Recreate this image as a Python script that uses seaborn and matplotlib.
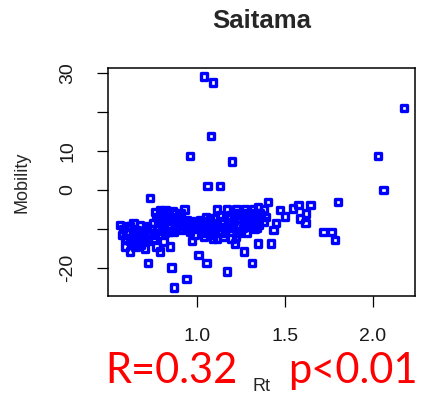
import matplotlib
matplotlib.use("Agg")
import matplotlib.pyplot as plt
import seaborn as sns
import pandas as pd

# Rt and Mobility values
rt = [1.04, 1.09, 2.175, 1.08, 0.96, 1.20, 2.03, 1.06, 1.13, 2.06,
      0.733, 1.803,
      0.723, 0.856, 0.941, 0.869, 1.008, 1.055, 1.169, 1.314, 1.267, 1.348, 1.419,
      1.718, 1.765, 1.784,
      1.405, 1.472, 1.50, 1.547, 1.576, 1.646, 1.619, 1.585, 1.617, 1.434, 1.45, 1.377, 1.358, 1.348,
      1.112, 1.169, 1.225, 1.273, 1.32, 1.21, 1.24, 1.27,
      1.074, 1.102, 1.178, 1.244, 1.31, 1.339,
      1.046, 1.093, 1.15, 1.206, 1.282, 1.33,
      1.017, 1.074, 1.169, 1.206, 1.263, 1.339,
      1.102, 1.159, 1.235, 1.282,
      1.112, 1.197, 1.216,
      0.985, 0.970, 0.998, 0.96, 0.928, 0.903,
      0.563, 0.572, 0.591, 0.619, 0.61, 0.638, 0.657, 0.676, 0.695, 0.705, 0.714, 0.733, 0.752,
      0.638, 0.667, 0.60, 0.629,
      0.761, 0.79, 0.809, 0.78, 0.828, 0.856, 0.875, 0.885, 0.837, 0.80, 0.752,
      0.809, 0.79, 0.847, 0.77, 0.761, 0.818, 0.866, 0.922, 0.913, 0.941,
      1.017, 1.036, 0.989, 1.055, 1.083,
      0.58, 0.60, 0.62, 0.64, 0.66, 0.68, 0.70, 0.72, 0.74, 0.62, 0.65, 0.68, 0.71, 0.59,
      0.77, 0.79, 0.81, 0.83, 0.85, 0.87, 0.89, 0.91, 0.86, 0.82, 0.78, 0.80, 0.84, 0.88, 0.90, 0.93, 0.95,
      0.95, 0.97, 0.99, 1.01, 1.03, 1.05, 1.06, 1.08, 1.10, 1.12, 1.13, 1.14, 1.16, 1.18, 1.19,
      1.21, 1.23, 1.25, 1.26, 1.28, 1.30, 1.31, 1.33, 1.35, 1.36, 1.38, 1.39, 1.04, 1.09, 1.15, 1.22]
mobility = [29.1, 27.6, 21.1, 13.8, 8.7, 7.3, 8.7, 1.0, 1.0, 0.0,
            -2.1, -3.0,
            -18.8, -19.9, -22.9, -25.0, -16.6, -18.8, -20.9, -18.8, -15.8, -13.7, -13.7,
            -10.7, -10.7, -12.8,
            -3.0, -5.1, -6.8, -4.7, -3.8, -3.8, -6.0, -7.3, -8.5, -10.2, -8.5, -8.1, -6.0, -4.3,
            -5.0, -5.0, -5.0, -5.0, -5.0, -6.0, -6.0, -6.0,
            -7.3, -7.3, -7.3, -7.3, -7.3, -7.3,
            -8.5, -8.5, -8.5, -8.5, -8.5, -8.5,
            -9.8, -9.8, -9.8, -9.8, -9.8, -9.8,
            -11.1, -11.1, -11.1, -11.1,
            -12.4, -12.4, -13.7,
            -7.9, -13.1, -9.8, -10.7, -5.0, -7.3,
            -9.0, -11.5, -14.5, -15.8, -9.4, -8.5, -10.2, -9.0, -10.7, -15.0, -9.4, -11.1, -12.4,
            -12.4, -13.7, -12.8, -14.1,
            -5.6, -5.1, -6.0, -7.7, -6.8, -7.7, -6.0, -9.0, -9.4, -9.8, -8.5,
            -13.2, -15.8, -14.5, -14.5, -11.5, -11.1, -10.7, -8.5, -10.2, -7.7,
            -7.7, -11.1, -11.5, -9.4, -11.5,
            -10.0, -10.8, -9.2, -11.0, -12.0, -11.5, -12.5, -13.0, -10.0, -13.0, -14.5, -14.0, -10.0, -12.5,
            -7.0, -8.0, -8.8, -8.0, -9.0, -8.2, -7.0, -6.0, -5.5, -5.3, -9.5, -10.5, -10.8, -10.0, -9.0, -9.5, -8.5,
            -10.0, -9.0, -8.5, -9.0, -8.0, -7.0, -10.5, -9.0, -10.0, -9.5, -6.5, -8.0, -10.5, -9.0, -6.5,
            -8.0, -9.0, -10.5, -6.5, -7.5, -9.0, -6.0, -10.0, -9.0, -6.5, -5.0, -7.0, -12.0, -12.5, -12.0, -12.0]

x_ticks = [1.0, 1.5, 2.0]
x_tick_labels = ["1.0", "1.5", "2.0"]
y_ticks = [-20, -10, 0, 10, 20, 30]
y_tick_labels = ["-20", "", "0", "10", "", "30"]

df = pd.DataFrame({"Rt": rt, "Mobility": mobility})

sns.set_style("white")
plt.rcParams["font.family"] = ["Liberation Sans", "DejaVu Sans"]

fig = plt.figure(figsize=(4.21, 3.99), dpi=100)
ax = fig.add_axes([0.2565, 0.2581, 0.7292, 0.5714])

sns.scatterplot(data=df, x="Rt", y="Mobility", marker="s", s=21,
                color="#0000ff", edgecolor="#0000ff", linewidth=2.4, ax=ax, legend=False)
ax.collections[0].set_facecolor("none")

ax.set_xlim(0.494, 2.239)
ax.set_ylim(-27.2, 31.3)
ax.set_xticks(x_ticks)
ax.set_xticklabels(x_tick_labels)
ax.set_yticks(y_ticks)
ax.set_yticklabels(y_tick_labels, rotation=90, va="center")
ax.tick_params(axis="both", direction="out", length=8, width=0.9, color="black",
               labelsize=14, labelcolor="#1a1a1a", pad=15, left=True, bottom=True)

for sp in ax.spines.values():
    sp.set_visible(True)
    sp.set_color("black")
    sp.set_linewidth(1.1)

ax.set_xlabel("Rt", fontsize=13)
ax.xaxis.label.set_va("center")
ax.xaxis.set_label_coords(0.5, -0.395)
ax.set_ylabel("Mobility", fontsize=13)
ax.yaxis.label.set_va("center")
ax.yaxis.set_label_coords(-0.28, 0.5)

ax.set_title("Saitama", fontsize=18.5, fontweight="bold", y=1.17, va="center")

fig.text(0.250, 0.040, "R=0.32", color="red", fontsize=30, family="Lato", va="baseline")
fig.text(0.993, 0.040, "p<0.01", color="red", fontsize=30, family="Lato", va="baseline", ha="right")

fig.savefig("out.png", dpi=100)
